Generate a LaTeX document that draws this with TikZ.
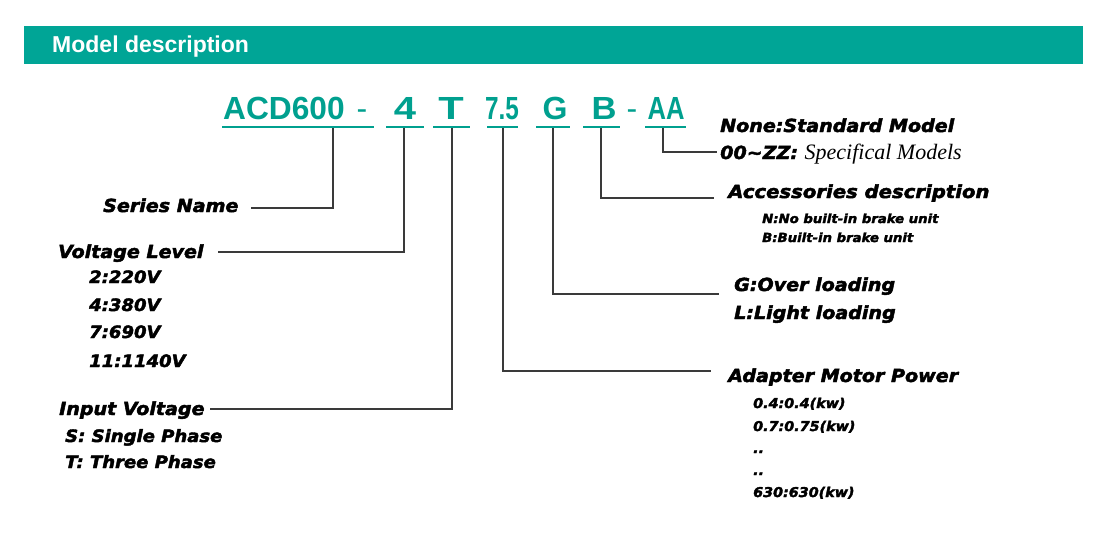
\documentclass[tikz,border=0pt]{standalone}
\usepackage{fontspec}
\usepackage{graphicx}
\setmainfont{Liberation Sans}
\newfontfamily\labfont{DejaVu Sans}[FakeStretch=1.06, BoldItalicFeatures={FakeBold=2.5}]
\newfontfamily\codefont{Liberation Sans}
\newfontfamily\serifit{Liberation Serif}
\definecolor{banner}{HTML}{00A596}
\definecolor{codeteal}{HTML}{00A08F}
\definecolor{linegray}{HTML}{3A3A3A}
\tikzset{
  lab/.style={anchor=base west, inner sep=0pt, text=black, font=\labfont\bfseries\itshape\fontsize{18}{18}\selectfont},
  sub/.style={lab, font=\labfont\bfseries\itshape\fontsize{17}{17}\selectfont},
  small/.style={lab, font=\labfont\bfseries\itshape\fontsize{13.5}{13.5}\selectfont},
  tiny/.style={lab, font=\labfont\bfseries\itshape\fontsize{12.5}{12.5}\selectfont},
  code/.style={anchor=base, inner sep=0pt, text=codeteal, font=\codefont\fontsize{32}{32}\selectfont},
  codeb/.style={code, font=\codefont\bfseries\fontsize{32}{32}\selectfont},
  conn/.style={draw=linegray, line width=1.5pt},
  uline/.style={draw=codeteal, line width=2.2pt}
}
\begin{document}
\begin{tikzpicture}[x=1pt,y=-1pt]
\useasboundingbox (0,0) rectangle (1108,552);
\fill[white] (0,0) rectangle (1108,552);
% banner
\fill[banner] (24,26) rectangle (1083,64);
\node[anchor=base west, inner sep=0pt, text=white, font=\codefont\bfseries\fontsize{23}{23}\selectfont] (title) at (52,52) {Model description};
% code
\node[codeb, anchor=base west] (acd) at (223,119) {\scalebox{0.99}[1]{ACD600}};
\node[code] (d1) at (362,119) {-};
\node[codeb] (c4) at (405,119) {\scalebox{1.25}[1]{4}};
\node[codeb] (cT) at (451,119) {\scalebox{1.3}[1]{T}};
\node[codeb] (c75) at (502,119) {\scalebox{0.76}[1]{7.5}};
\node[codeb] (cG) at (555,119) {G};
\node[codeb] (cB) at (604,119) {\scalebox{1.08}[1]{B}};
\node[code] (d2) at (632,119) {-};
\node[codeb] (cAA) at (666,119) {\scalebox{0.8}[1]{AA}};
% underlines
\draw[uline] (222,127) -- (374,127);
\draw[uline] (386,127) -- (424,127);
\draw[uline] (433,127) -- (470,127);
\draw[uline] (487,127) -- (518,127);
\draw[uline] (536,127) -- (570,127);
\draw[uline] (583,127) -- (620,127);
\draw[uline] (645,127) -- (686,127);
% connector starts
\coordinate (pA) at (333,128);
\coordinate (p4) at (404,128);
\coordinate (pT) at (452,128);
\coordinate (p75) at (503,128);
\coordinate (pG) at (553,128);
\coordinate (pB) at (601,128);
\coordinate (pAA) at (663,128);
% connector ends
\coordinate (eA) at (251,208);
\coordinate (e4) at (218,252);
\coordinate (eT) at (210,409);
\coordinate (e75) at (711,371);
\coordinate (eG) at (719,294);
\coordinate (eB) at (714,198);
\coordinate (eAA) at (717,152);
\draw[conn] (pA) |- (eA);
\draw[conn] (p4) |- (e4);
\draw[conn] (pT) |- (eT);
\draw[conn] (p75) |- (e75);
\draw[conn] (pG) |- (eG);
\draw[conn] (pB) |- (eB);
\draw[conn] (pAA) |- (eAA);
% left labels
\node[lab] (series) at (103,212) {Series Name};
\node[lab] (volt) at (58,258) {Voltage Level};
\node[sub] (v2) at (89,283) {2:220V};
\node[sub] (v4) at (89,311) {4:380V};
\node[sub] (v7) at (89,338) {7:690V};
\node[sub] (v11) at (89,367) {11:1140V};
\node[lab] (input) at (59,415) {Input Voltage};
\node[sub] (iS) at (65,442) {S: Single Phase};
\node[sub] (iT) at (65,468) {T: Three Phase};
% right labels
\node[lab] (none) at (720,132) {None:Standard Model};
\node[lab] (zz) at (720,159) {00\textasciitilde ZZ: {\serifit\mdseries\itshape\fontsize{22}{22}\selectfont Specifical Models}};
\node[lab] (acc) at (728,198) {\scalebox{1.03}[1]{Accessories description}};
\node[tiny] (accN) at (762,223) {N:No built-in brake unit};
\node[tiny] (accB) at (762,242) {B:Built-in brake unit};
\node[lab] (gover) at (734,291) {G:Over loading};
\node[lab] (llight) at (734,319) {L:Light loading};
\node[lab] (amp) at (728,382) {Adapter Motor Power};
\node[small] (p1) at (753,408) {0.4:0.4(kw)};
\node[small] (p2) at (753,431) {0.7:0.75(kw)};
\node[small] (p3) at (753,453) {..};
\node[small] (p4t) at (753,475) {..};
\node[small] (p5) at (753,497) {630:630(kw)};
\end{tikzpicture}
\end{document}
